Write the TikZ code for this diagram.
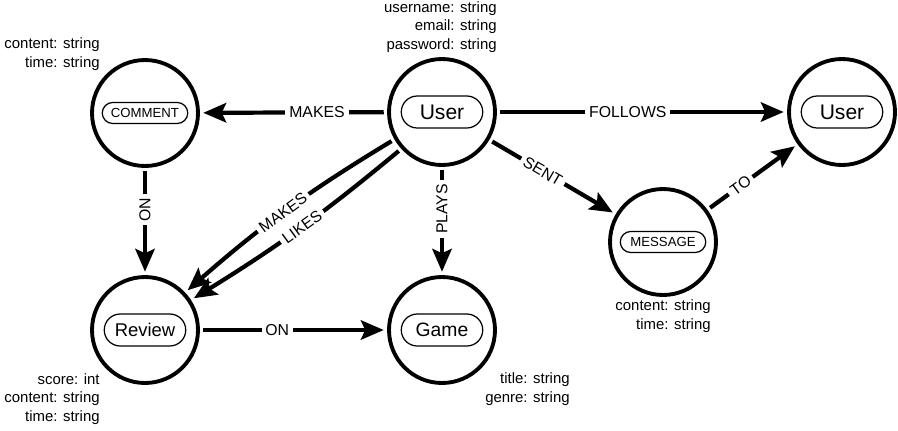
\documentclass[tikz,border=0pt]{standalone}
\usepackage{fontspec}
\setmainfont{Liberation Sans}
\usetikzlibrary{arrows.meta, shapes.misc}

\begin{document}
\begin{tikzpicture}
    [
        x=0.02cm, y=-0.02cm,
        entity/.style={circle, draw, line width=2.2pt, minimum size=2.12cm, outer sep=3pt},
        tag/.style={rounded rectangle, draw, line width=0.7pt, minimum width=1.7cm, minimum height=0.64cm, inner sep=1pt, font=\fontsize{12}{14}\selectfont},
        smalltag/.style={tag, minimum width=1.78cm, minimum height=0.42cm, font=\fontsize{7.5}{9}\selectfont},
        attr/.style={align=right, inner sep=0pt, font=\fontsize{8.5}{10.6}\selectfont},
        rel/.style={-{Stealth[length=13pt, width=11pt, inset=2.5pt]}, line width=2.4pt},
        lbl/.style={fill=white, inner sep=2.2pt, font=\fontsize{9}{10}\selectfont},
    ]
    \useasboundingbox (0,0) rectangle (898,430);

    \node[entity] (comment) at (145,113) {};
    \node[entity] (user) at (442,112) {};
    \node[entity] (user2) at (842,112) {};
    \node[entity] (message) at (663,242) {};
    \node[entity] (review) at (145,330) {};
    \node[entity] (game) at (442,330) {};

    \node[smalltag] (commenttag) at (comment) {COMMENT};
    \node[tag] (usertag) at (user) {User};
    \node[tag] (user2tag) at (user2) {User};
    \node[smalltag] (messagetag) at (message) {MESSAGE};
    \node[tag, font=\fontsize{10.5}{12}\selectfont] (reviewtag) at (review) {Review};
    \node[tag, font=\fontsize{11}{13}\selectfont] (gametag) at (game) {Game};

    \node[attr, anchor=east] (commentattr) at (100,54) {content: string\\time: string};
    \node[attr, anchor=east] (userattr) at (497,27) {username: string\\email: string\\password: string};
    \node[attr, anchor=east] (messageattr) at (711,316) {content: string\\time: string};
    \node[attr, anchor=east] (reviewattr) at (100,399) {score: int\\content: string\\time: string};
    \node[attr, anchor=east] (gameattr) at (570,389) {title: string\\genre: string};

    \draw[rel] (user) -- node[lbl, pos=0.37] {MAKES} (comment);
    \draw[rel] (user) -- node[lbl, pos=0.45] {FOLLOWS} (user2);
    \draw[rel] (comment) -- node[lbl, rotate=90, pos=0.38] {ON} (review);
    \draw[rel] (user) -- node[lbl, rotate=90, pos=0.38] {PLAYS} (game);
    \draw[rel] (review) -- node[lbl, pos=0.41] {ON} (game);
    \draw[rel] (user.210) to[bend right=5] node[lbl, sloped, pos=0.515] {MAKES} (review.43);
    \draw[rel] (user.222) to[bend left=4] node[lbl, sloped, pos=0.485] {LIKES} (review.33);
    \draw[rel] (user) -- node[lbl, sloped, pos=0.42] {SENT} (message);
    \draw[rel] (message) -- node[lbl, sloped, pos=0.36] {TO} (user2);
\end{tikzpicture}
\end{document}
